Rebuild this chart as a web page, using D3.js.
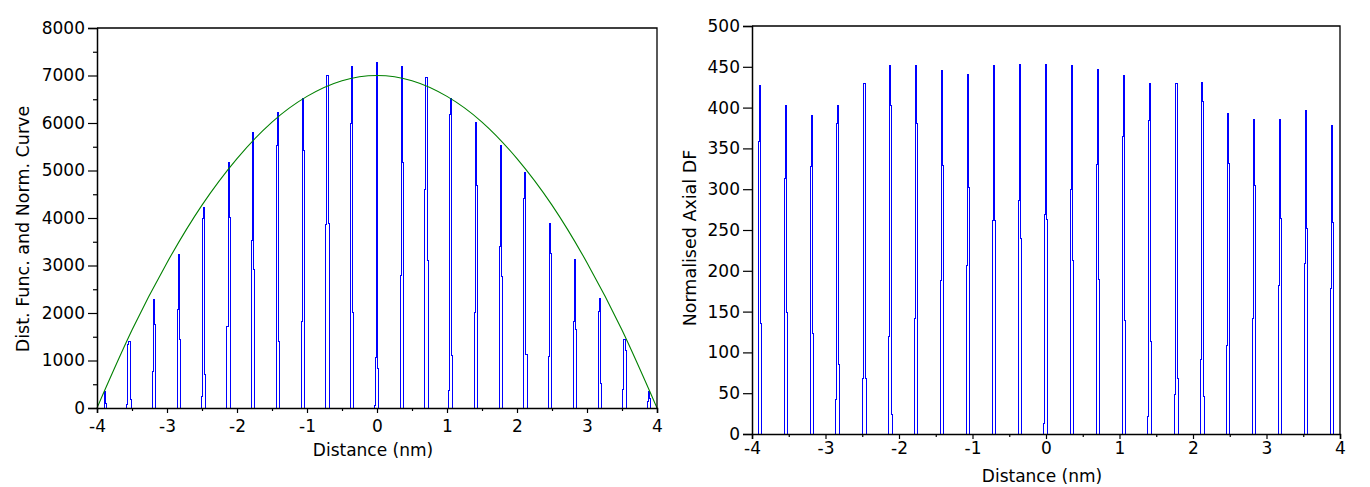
<!DOCTYPE html>
<html lang="en">
<head>
<meta charset="UTF-8">
<title>distribution functions</title>
<script src="https://cdn.jsdelivr.net/npm/d3@7"></script>
<style>
  body { margin: 0; background: #fff; }
  text { font-family: "DejaVu Sans", sans-serif; fill: #000; }
</style>
</head>
<body>
<svg width="1370" height="487"></svg>
<script>
// spike centres along the axis (nm)
const centres = [-3.889, -3.536, -3.182, -2.828, -2.475, -2.121, -1.768, -1.414, -1.061, -0.707, -0.354, 0,
                 0.354, 0.707, 1.061, 1.414, 1.768, 2.121, 2.475, 2.828, 3.182, 3.536, 3.889];
const binWidth = 0.015;

// left panel: histogram bins of each spike
const distBins = [
  [340, 90], [70, 1340, 1400, 175], [770, 2290, 1760], [2080, 3240, 1440], [250, 4000, 4230, 700],
  [1720, 5170, 4010], [3530, 5800, 2920], [5535, 6225, 1410], [1830, 6520, 5430], [3870, 7010, 3890],
  [5990, 7200, 2020], [56, 1056, 7275, 824], [2800, 7180, 5170], [4610, 6950, 3110], [370, 6170, 6520, 1110],
  [2010, 6010, 4690], [3390, 5535, 2775], [4415, 4965, 1127], [1085, 3890, 3260], [1830, 3130, 1655],
  [2040, 2300, 514], [390, 1440, 1210], [127, 350, 210]
];
// left panel: normalisation curve, read every 0.5 nm
const curveX = [-4, -3.5, -3, -2.5, -2, -1.5, -1, -0.5, 0, 0.5, 1, 1.5, 2, 2.5, 3, 3.5, 4];
const curveY = [0, 1640, 3060, 4270, 5250, 6020, 6560, 6890, 7000, 6890, 6560, 6020, 5250, 4270, 3060, 1640, 0];

// right panel: normalised axial DF bins
const axialBins = [
  [358, 427, 135], [313, 402, 149], [328, 390, 123], [42, 381, 402, 85], [68, 429, 429, 68],
  [119, 451, 403, 24], [142, 452, 381], [188, 446, 329], [207, 440, 302], [262, 452, 262],
  [286, 453, 239], [13, 269, 453, 263], [300, 451, 213], [330, 447, 189], [364, 439, 139],
  [22, 384, 430, 113], [48, 429, 429, 68], [91, 431, 408, 46], [109, 393, 331], [141, 386, 304],
  [182, 385, 264], [209, 397, 252], [178, 378, 259]
];

const xTicks = [-4, -3, -2, -1, 0, 1, 2, 3, 4];
const xMinor = [-3.5, -2.5, -1.5, -0.5, 0.5, 1.5, 2.5, 3.5];
const leftYTicks = [0, 1000, 2000, 3000, 4000, 5000, 6000, 7000, 8000];
const leftYMinor = [500, 1500, 2500, 3500, 4500, 5500, 6500, 7500];
const rightYTicks = [0, 50, 100, 150, 200, 250, 300, 350, 400, 450, 500];

const svg = d3.select('svg');
const plain = d => String(d);   // keeps the ascii hyphen for negatives

// turn spike bins into a stepped outline
function stepPoints(bins) {
  const pts = [[-4, 0]];
  bins.forEach((b, k) => {
    const peak = b.indexOf(d3.max(b));
    const x0 = centres[k] - (peak + 0.5) * binWidth;
    b.forEach((v, i) => pts.push([x0 + i * binWidth, v]));
    pts.push([x0 + b.length * binWidth, 0]);
  });
  pts.push([4, 0]);
  return pts;
}

function panel(opt) {
  const x = d3.scaleLinear().domain([-4, 4]).range([opt.left, opt.right]);
  const y = d3.scaleLinear().domain([0, opt.yMax]).range([opt.bottom, opt.top]);
  const g = svg.append('g');

  const line = d3.line().x(d => x(d[0])).y(d => y(d[1])).curve(d3.curveStepAfter);
  g.append('path')
    .attr('d', line(stepPoints(opt.bins)))
    .attr('fill', 'none')
    .attr('stroke', '#0000ff')
    .attr('stroke-width', 1)
    .attr('shape-rendering', 'crispEdges');

  if (opt.curve) {
    const smooth = d3.line().x((d, i) => x(curveX[i])).y(d => y(d)).curve(d3.curveNatural);
    g.append('path')
      .attr('d', smooth(curveY))
      .attr('fill', 'none')
      .attr('stroke', '#008000')
      .attr('stroke-width', 1.1);
  }

  // frame
  g.append('path')
    .attr('d', `M${opt.left},${opt.top}H${opt.right}V${opt.bottom}`)
    .attr('fill', 'none').attr('stroke', '#000').attr('stroke-width', 1.3);

  g.append('g').attr('transform', `translate(0,${opt.bottom})`)
    .call(d3.axisBottom(x).tickValues(xTicks).tickSize(5).tickPadding(opt.xPad).tickFormat(plain));
  g.append('g').attr('transform', `translate(0,${opt.bottom})`)
    .call(d3.axisBottom(x).tickValues(xMinor).tickSize(3).tickFormat(''))
    .select('.domain').remove();

  g.append('g').attr('transform', `translate(${opt.left},0)`)
    .call(d3.axisLeft(y).tickValues(opt.yTicks).tickSize(9).tickPadding(3).tickFormat(plain));
  if (opt.yMinor) {
    g.append('g').attr('transform', `translate(${opt.left},0)`)
      .call(d3.axisLeft(y).tickValues(opt.yMinor).tickSize(4).tickFormat(''))
      .select('.domain').remove();
  }

  g.selectAll('.domain').attr('stroke-width', 1.5);
  g.selectAll('.tick line').attr('stroke-width', 1.2);
  g.selectAll('.tick text').attr('font-size', 17).attr('font-family', 'DejaVu Sans');

  g.append('text')
    .attr('x', (opt.left + opt.right) / 2 - 4).attr('y', opt.xTitleY)
    .attr('text-anchor', 'middle').attr('font-size', 17)
    .text('Distance (nm)');
  g.append('text')
    .attr('transform', `translate(${opt.yTitleX},${opt.yTitleMid}) rotate(-90)`)
    .attr('text-anchor', 'middle').attr('font-size', 17.5)
    .text(opt.yTitle);
}

panel({
  left: 97, right: 657, top: 28, bottom: 408, yMax: 8000,
  bins: distBins, curve: true,
  yTicks: leftYTicks, yMinor: leftYMinor, xPad: 7,
  xTitleY: 456, yTitleX: 29, yTitleMid: 229,
  yTitle: 'Dist. Func. and Norm. Curve'
});

panel({
  left: 752, right: 1340, top: 26, bottom: 434, yMax: 500,
  bins: axialBins, curve: false,
  yTicks: rightYTicks, yMinor: null, xPad: 3,
  xTitleY: 482, yTitleX: 696, yTitleMid: 238,
  yTitle: 'Normalised Axial DF'
});
</script>
</body>
</html>
